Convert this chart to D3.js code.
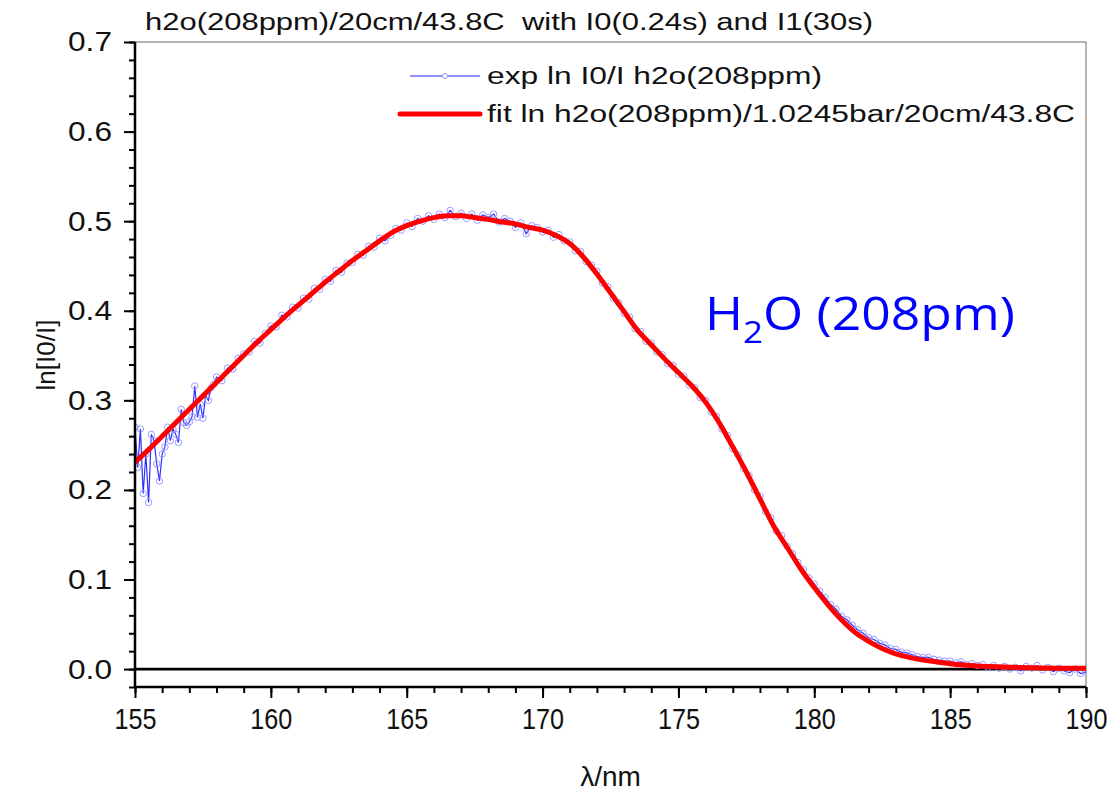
<!DOCTYPE html>
<html>
<head>
<meta charset="utf-8">
<script src="https://cdn.jsdelivr.net/npm/d3@7"></script>
<style>
  body { margin: 0; background: #fff; }
  svg { display: block; }
</style>
</head>
<body>
<div id="chart"></div>
<script>
// texts
const titleText = "h2o(208ppm)/20cm/43.8C  with I0(0.24s) and I1(30s)";
const seriesNames = ["exp ln I0/I h2o(208ppm)", "fit ln h2o(208ppm)/1.0245bar/20cm/43.8C"];
const xTitle = "\u03bb/nm";
const yTitle = "ln[I0/I]";
const xTicks = [155, 160, 165, 170, 175, 180, 185, 190];
const yTicks = [0.0, 0.1, 0.2, 0.3, 0.4, 0.5, 0.6, 0.7];

// fitted curve, every 0.5 nm from 155 to 190
const fitStart = 155, fitStep = 0.5;
const fitValues = [
  0.231, 0.245, 0.260, 0.275, 0.290, 0.305, 0.320, 0.335, 0.350, 0.365,
  0.379, 0.393, 0.406, 0.419, 0.432, 0.444, 0.456, 0.467, 0.478, 0.488,
  0.495, 0.500, 0.504, 0.506, 0.506, 0.504, 0.502, 0.499, 0.497, 0.493,
  0.490, 0.484, 0.475, 0.460, 0.441, 0.420, 0.399, 0.378, 0.362, 0.346,
  0.331, 0.316, 0.298, 0.275, 0.248, 0.220, 0.190, 0.160, 0.136, 0.112,
  0.091, 0.072, 0.055, 0.041, 0.031, 0.023, 0.017, 0.013, 0.010, 0.008,
  0.006, 0.0045, 0.0035, 0.0028, 0.0022, 0.0018, 0.0015, 0.0012, 0.0010, 0.0009,
  0.0008
];

// measured, noisy start 155.0 - 157.9, every 0.1 nm
const expNoisyStart = 155, expNoisyStep = 0.1;
const expNoisy = [
  0.270, 0.225, 0.268, 0.196, 0.240, 0.186, 0.262, 0.255, 0.229, 0.210,
  0.240, 0.248, 0.270, 0.255, 0.268, 0.262, 0.253, 0.290, 0.275, 0.272,
  0.276, 0.282, 0.316, 0.281, 0.296, 0.280, 0.305, 0.300, 0.314, 0.318
];

// measured, 158.0 - 190.0, every 0.2 nm (one row per nm)
const expRestStart = 158, expRestStep = 0.2;
const expRest = [
  0.326, 0.322, 0.336, 0.335, 0.347,
  0.352, 0.354, 0.366, 0.364, 0.375,
  0.383, 0.382, 0.395, 0.393, 0.404,
  0.403, 0.414, 0.413, 0.425, 0.424,
  0.435, 0.433, 0.445, 0.443, 0.453,
  0.454, 0.463, 0.462, 0.472, 0.471,
  0.481, 0.478, 0.484, 0.492, 0.490,
  0.498, 0.494, 0.503, 0.500, 0.506,
  0.502, 0.508, 0.504, 0.512, 0.505,
  0.509, 0.503, 0.508, 0.501, 0.507,
  0.504, 0.508, 0.499, 0.503, 0.500,
  0.493, 0.498, 0.486, 0.495, 0.493,
  0.488, 0.490, 0.482, 0.485, 0.478,
  0.477, 0.467, 0.466, 0.455, 0.451,
  0.444, 0.431, 0.427, 0.414, 0.409,
  0.397, 0.393, 0.380, 0.377, 0.366,
  0.364, 0.354, 0.351, 0.341, 0.339,
  0.329, 0.327, 0.317, 0.314, 0.303,
  0.300, 0.287, 0.282, 0.268, 0.261,
  0.246, 0.239, 0.224, 0.216, 0.200,
  0.193, 0.176, 0.169, 0.154, 0.149,
  0.137, 0.129, 0.119, 0.111, 0.102,
  0.095, 0.087, 0.080, 0.072, 0.067,
  0.059, 0.055, 0.049, 0.044, 0.040,
  0.035, 0.033, 0.029, 0.027, 0.023,
  0.022, 0.019, 0.018, 0.016, 0.014,
  0.013, 0.013, 0.011, 0.010, 0.009,
  0.009, 0.007, 0.008, 0.005, 0.006,
  0.004, 0.005, 0.002, 0.004, 0.001,
  0.003, 0.000, 0.002, -0.002, 0.003,
  0.001, 0.004, -0.001, 0.002, -0.003,
  0.001, -0.002, -0.004, 0.000, -0.005,
  -0.003
];

const W = 1114, H = 792;
const m = { left: 135, right: 1086, top: 42, bottom: 687 };
const font = "'Liberation Sans', Arial, sans-serif";

const fitData = fitValues.map((v, i) => ({ x: fitStart + i * fitStep, y: v }));
const expData = expNoisy.map((v, i) => ({ x: expNoisyStart + i * expNoisyStep, y: v }))
  .concat(expRest.map((v, i) => ({ x: expRestStart + i * expRestStep, y: v })));

const x = d3.scaleLinear().domain([155, 190]).range([m.left, m.right]);
const y = d3.scaleLinear().domain([-0.02, 0.7]).range([m.bottom, m.top]);

const svg = d3.select("#chart").append("svg")
  .attr("width", W).attr("height", H)
  .style("font-family", font);

svg.append("defs").append("clipPath").attr("id", "plot")
  .append("rect").attr("x", m.left).attr("y", m.top)
  .attr("width", m.right - m.left).attr("height", m.bottom - m.top);

// frame top / right
svg.append("path")
  .attr("d", `M${m.left},${m.top}H${m.right}V${m.bottom}`)
  .attr("fill", "none").attr("stroke", "#9a9a9a").attr("stroke-width", 1.5);

const plot = svg.append("g").attr("clip-path", "url(#plot)");

// zero line
plot.append("line")
  .attr("x1", m.left).attr("x2", m.right)
  .attr("y1", y(0)).attr("y2", y(0))
  .attr("stroke", "#000").attr("stroke-width", 2.8);

// measured data
plot.append("path").datum(expData)
  .attr("fill", "none").attr("stroke", "#2f2fff").attr("stroke-width", 1.2)
  .attr("d", d3.line().x(d => x(d.x)).y(d => y(d.y)));

plot.selectAll("circle.exp").data(expData).join("circle")
  .attr("class", "exp")
  .attr("cx", d => x(d.x)).attr("cy", d => y(d.y)).attr("r", 3.2)
  .attr("fill", "none").attr("stroke", "#9a9aff").attr("stroke-width", 1);

// fit
plot.append("path").datum(fitData)
  .attr("fill", "none").attr("stroke", "#ff0000").attr("stroke-width", 5)
  .attr("stroke-linejoin", "round")
  .attr("d", d3.line().curve(d3.curveMonotoneX).x(d => x(d.x)).y(d => y(d.y)));

// axes
const xMinor = d3.range(155, 191, 1);
const yMinor = d3.range(-2, 71, 2).map(v => v / 100);

svg.append("g").attr("transform", `translate(0,${m.bottom})`)
  .call(d3.axisBottom(x).tickValues(xMinor).tickSize(6).tickFormat(""))
  .call(g => g.select(".domain").remove())
  .selectAll("line").attr("stroke-width", 2);

const gx = svg.append("g").attr("transform", `translate(0,${m.bottom})`)
  .call(d3.axisBottom(x).tickValues(xTicks).tickSize(11).tickPadding(10).tickFormat(d3.format("d")));
gx.select(".domain").attr("stroke-width", 2.5).attr("d", `M${m.left},0H${m.right}`);
gx.selectAll("line").attr("stroke-width", 2);
gx.selectAll("text").attr("font-size", 30).attr("font-family", font)
  .attr("fill", "#111").attr("textLength", 42).attr("lengthAdjust", "spacingAndGlyphs");

svg.append("g").attr("transform", `translate(${m.left},0)`)
  .call(d3.axisLeft(y).tickValues(yMinor).tickSize(6).tickFormat(""))
  .call(g => g.select(".domain").remove())
  .selectAll("line").attr("stroke-width", 2);

const gy = svg.append("g").attr("transform", `translate(${m.left},0)`)
  .call(d3.axisLeft(y).tickValues(yTicks).tickSize(11).tickPadding(12).tickFormat(d3.format(".1f")));
gy.select(".domain").attr("stroke-width", 2.5).attr("d", `M0,${m.top}V${m.bottom}`);
gy.selectAll("line").attr("stroke-width", 2);
gy.selectAll("text").attr("font-size", 28).attr("font-family", font).attr("fill", "#111")
  .attr("textLength", 44).attr("lengthAdjust", "spacingAndGlyphs");

// title
svg.append("text").attr("x", 145).attr("y", 30)
  .attr("font-size", 23).attr("fill", "#111")
  .style("white-space", "pre")
  .attr("textLength", 728).attr("lengthAdjust", "spacingAndGlyphs")
  .text(titleText);

// axis titles
svg.append("text").attr("x", (m.left + m.right) / 2).attr("y", 786)
  .attr("text-anchor", "middle").attr("font-size", 28).attr("fill", "#111")
  .text(xTitle);

svg.append("text").attr("transform", "translate(55,355) rotate(-90)")
  .attr("text-anchor", "middle").attr("font-size", 26).attr("fill", "#111")
  .text(yTitle);

// legend
const legend = svg.append("g");
legend.append("line").attr("x1", 410).attr("x2", 480).attr("y1", 76).attr("y2", 76)
  .attr("stroke", "#6a6aff").attr("stroke-width", 1.5);
legend.append("circle").attr("cx", 445).attr("cy", 76).attr("r", 2.5)
  .attr("fill", "#fff").attr("stroke", "#9a9aff");
legend.append("text").attr("x", 487).attr("y", 84).attr("font-size", 23).attr("fill", "#111")
  .attr("textLength", 335).attr("lengthAdjust", "spacingAndGlyphs")
  .text(seriesNames[0]);
legend.append("line").attr("x1", 400).attr("x2", 480).attr("y1", 114).attr("y2", 114)
  .attr("stroke", "#ff0000").attr("stroke-width", 5).attr("stroke-linecap", "round");
legend.append("text").attr("x", 487).attr("y", 122).attr("font-size", 23).attr("fill", "#111")
  .attr("textLength", 588).attr("lengthAdjust", "spacingAndGlyphs")
  .text(seriesNames[1]);

// annotation
const note = svg.append("text").attr("x", 705).attr("y", 330)
  .attr("font-family", "'Open Sans', 'Noto Sans', sans-serif")
  .attr("font-size", 46).attr("fill", "#0000ff")
  .attr("textLength", 310).attr("lengthAdjust", "spacingAndGlyphs");
note.append("tspan").text("H");
note.append("tspan").attr("dy", 13).attr("font-size", 31).text("2");
note.append("tspan").attr("dy", -13).text("O (208pm)");
</script>
</body>
</html>
